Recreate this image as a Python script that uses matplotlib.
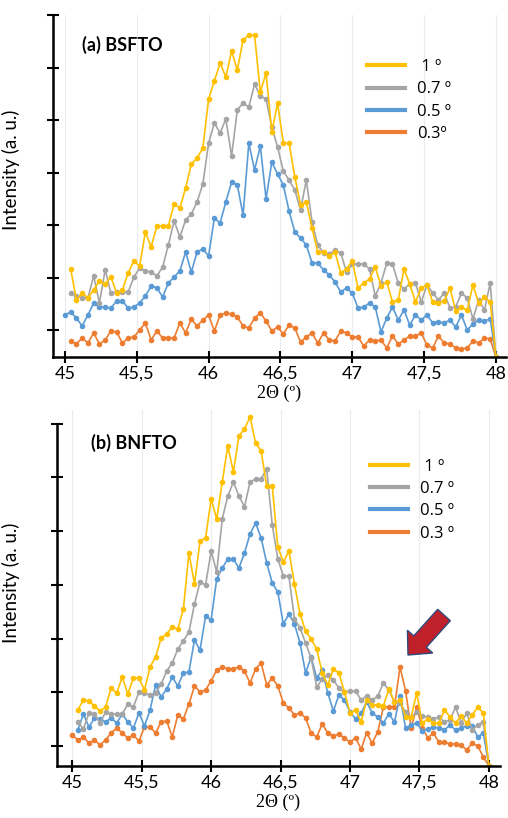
import numpy as np
import matplotlib
matplotlib.use("Agg")
import matplotlib.pyplot as plt
from matplotlib.lines import Line2D
from matplotlib.patches import FancyArrow
from matplotlib.transforms import IdentityTransform

# intensity readings (a. u.), 2theta step 0.04 deg, each scan ends at 48 deg
labels_a = [" 1 º", "0.7 º", "0.5 º", "0.3º"]
labels_b = [" 1 º", "0.7 º", "0.5 º", "0.3 º"]
colors = ["#FFC000", "#A5A5A5", "#5B9BD5", "#ED7D31"]

bsfto_10 = [88, 57, 64, 59, 67, 76, 73, 80, 64, 67,
            84, 96, 91, 125, 110, 131, 131, 131, 153, 149,
            169, 193, 199, 209, 258, 276, 294, 280, 306, 287,
            317, 322, 322, 265, 284, 225, 254, 214, 214, 180,
            152, 155, 129, 105, 105, 101, 105, 84, 88, 96,
            69, 74, 78, 90, 71, 75, 55, 57, 88, 73,
            55, 69, 72, 55, 54, 56, 69, 46, 50, 47,
            72, 54, 60, 55, 0]
bsfto_07 = [64, 61, 59, 59, 81, 54, 87, 64, 65, 65,
            65, 80, 89, 86, 85, 81, 90, 112, 136, 120,
            137, 143, 155, 173, 214, 234, 224, 238, 201, 247,
            254, 250, 273, 261, 258, 230, 210, 186, 177, 167,
            147, 177, 135, 112, 104, 103, 107, 104, 85, 93,
            93, 93, 88, 61, 74, 94, 93, 74, 68, 73,
            74, 55, 72, 64, 57, 64, 49, 50, 64, 59,
            38, 57, 47, 74, 0]
bsfto_05 = [42, 45, 39, 31, 42, 54, 50, 50, 49, 56,
            56, 49, 50, 54, 61, 71, 69, 60, 74, 80,
            86, 105, 85, 105, 108, 101, 139, 134, 155, 175,
            172, 142, 214, 187, 211, 158, 195, 183, 172, 146,
            125, 119, 112, 94, 94, 87, 82, 75, 65, 69,
            64, 49, 50, 54, 50, 25, 39, 50, 37, 47,
            32, 42, 37, 42, 34, 35, 34, 37, 30, 42,
            27, 33, 37, 36, 38, 0]
bsfto_03 = [16, 13, 19, 14, 24, 13, 17, 26, 25, 14,
            19, 20, 27, 34, 17, 26, 19, 19, 19, 34,
            24, 38, 31, 37, 42, 26, 42, 44, 43, 40,
            31, 29, 39, 44, 36, 26, 30, 23, 32, 29,
            15, 20, 24, 14, 24, 17, 16, 26, 24, 20,
            20, 11, 17, 16, 17, 9, 21, 13, 17, 21,
            21, 24, 12, 9, 21, 14, 13, 9, 8, 9,
            16, 14, 19, 18, 0]

bnfto_10 = [56, 66, 65, 60, 55, 59, 78, 73, 89, 72,
            88, 88, 76, 99, 109, 128, 132, 139, 137, 157,
            213, 182, 225, 228, 267, 247, 284, 320, 294, 330,
            337, 349, 323, 315, 280, 280, 219, 204, 215, 182,
            152, 135, 127, 117, 93, 81, 97, 93, 74, 53,
            56, 44, 66, 61, 61, 60, 77, 64, 66, 49,
            49, 73, 43, 47, 43, 43, 56, 49, 43, 50,
            43, 51, 59, 53, 0]
bnfto_07 = [44, 37, 53, 52, 43, 54, 52, 52, 52, 62,
            59, 74, 73, 71, 73, 82, 95, 103, 117, 125,
            134, 162, 184, 181, 215, 194, 247, 270, 284, 270,
            259, 284, 287, 287, 297, 241, 207, 190, 190, 147,
            138, 123, 108, 79, 87, 91, 86, 78, 74, 75,
            75, 66, 70, 66, 70, 83, 76, 64, 63, 54,
            49, 54, 50, 49, 47, 49, 44, 46, 59, 43,
            53, 36, 41, 44, 0]
bnfto_05 = [36, 52, 39, 48, 47, 44, 48, 43, 52, 44,
            38, 53, 40, 56, 81, 69, 77, 89, 80, 93,
            94, 126, 116, 150, 146, 187, 198, 207, 207, 198,
            213, 232, 243, 228, 203, 183, 174, 142, 152, 142,
            123, 93, 109, 88, 96, 73, 55, 71, 66, 54,
            47, 53, 64, 53, 49, 43, 52, 44, 70, 38,
            41, 43, 35, 37, 39, 38, 36, 41, 36, 38,
            40, 40, 29, 33, 0]
bnfto_03 = [31, 26, 29, 23, 26, 21, 26, 33, 38, 33,
            28, 31, 25, 39, 39, 33, 44, 45, 29, 51,
            47, 62, 80, 74, 76, 85, 96, 99, 97, 97,
            99, 95, 83, 97, 103, 81, 88, 80, 63, 58,
            51, 53, 48, 33, 29, 42, 33, 30, 32, 28,
            24, 28, 17, 33, 23, 34, 59, 59, 59, 99,
            75, 38, 59, 38, 28, 33, 24, 24, 22, 22,
            21, 16, 23, 20, 9, 0]

xticks = [45, 45.5, 46, 46.5, 47, 47.5, 48]
xticklabels = ["45", "45,5", "46", "46,5", "47", "47,5", "48"]

W, H = 508, 818
SANS = ["Lato", "DejaVu Sans"]
LEG = ["Open Sans", "DejaVu Sans"]
SERIF = ["Liberation Serif", "DejaVu Serif"]


def scan_x(values):
    # scans are sampled every 0.04 deg up to 48
    n = len(values)
    return 48.0 - 0.04 * np.arange(n)[::-1]


def setup_axes(ax, xlim, ytop, first_tick, tick_step, label_xy):
    ax.set_xlim(*xlim)
    ax.set_ylim(0, ytop)
    for s in ["top", "right"]:
        ax.spines[s].set_visible(False)
    for s in ["left", "bottom"]:
        ax.spines[s].set_linewidth(1.8)
    ticks = first_tick + tick_step * np.arange(7)
    ax.spines["left"].set_bounds(0, ticks[-1])
    ax.set_xticks(xticks)
    ax.set_xticklabels(xticklabels, family=SANS, fontsize=13)
    ax.set_yticks(ticks)
    ax.set_yticklabels([])
    ax.tick_params(axis="both", direction="inout", length=9, width=1.5)
    ax.tick_params(axis="x", pad=2)
    ax.grid(axis="x", color="#E6ECF2", linewidth=0.8)
    ax.set_axisbelow(True)
    ax.set_xlabel("2Θ (º)", family=SERIF, fontsize=13, labelpad=2)
    ax.set_ylabel("Intensity (a. u.)", family=SANS, fontsize=13.5)
    ax.yaxis.set_label_coords(*label_xy)


def draw_panel(ax, series):
    for vals, c in reversed(list(zip(series, colors))):
        ax.plot(scan_x(vals), vals, color=c, lw=1.2, marker="o", ms=3.0,
                mec=c, mfc=c)


def add_legend(fig, labels, left_px, center_px):
    handles = [Line2D([], [], color=c, lw=3) for c in colors]
    fig.legend(handles, labels, loc="center left",
               bbox_to_anchor=(left_px / W, 1 - center_px / H),
               frameon=False, prop={"family": LEG, "size": 12},
               handlelength=2.3, handletextpad=0.7, labelspacing=0.38,
               borderpad=0, borderaxespad=0)


def main():
    fig = plt.figure(figsize=(W / 100, H / 100), dpi=100)

    ax_a = fig.add_axes([53 / W, 1 - 357 / H, 453 / W, 342 / H])
    setup_axes(ax_a, (44.917, 48.07), 342, 27, 52.5, (-0.073, 0.548))
    draw_panel(ax_a, [bsfto_10, bsfto_07, bsfto_05, bsfto_03])
    fig.text(82 / W, 1 - 45 / H, "(a) BSFTO", family=SANS, fontsize=13,
             fontweight="bold", va="center")
    add_legend(fig, labels_a, 367, 100.5)

    ax_b = fig.add_axes([57 / W, 1 - 766 / H, 443 / W, 356 / H])
    setup_axes(ax_b, (44.89, 48.08), 356, 20, 53.7, (-0.084, 0.515))
    draw_panel(ax_b, [bnfto_10, bnfto_07, bnfto_05, bnfto_03])
    fig.text(91 / W, 1 - 443 / H, "(b) BNFTO", family=SANS, fontsize=13,
             fontweight="bold", va="center")
    add_legend(fig, labels_b, 370, 500)

    # red arrow pointing at the extra peak near 47.35 deg (pixel coords)
    arrow = FancyArrow(444, H - 615, -36, -40, width=17, head_width=34,
                       head_length=18, length_includes_head=True,
                       fc="#C0202A", ec="#2F4A7A", lw=1.0,
                       transform=IdentityTransform())
    fig.add_artist(arrow)

    fig.savefig("out.png", dpi=100)


if __name__ == "__main__":
    main()
